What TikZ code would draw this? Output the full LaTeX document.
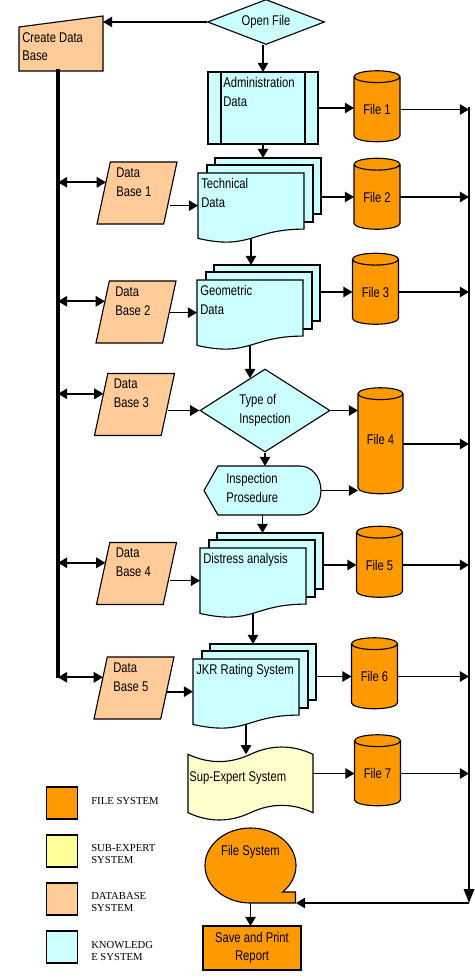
\documentclass[tikz,border=0pt]{standalone}
\usepackage{fontspec}
\setmainfont[FakeStretch=0.8]{Liberation Sans}
\newfontfamily\keyfont{Liberation Serif}
\usetikzlibrary{shapes.geometric, arrows.meta}

\definecolor{filecol}{HTML}{FF9900}
\definecolor{dbcol}{HTML}{FFCC99}
\definecolor{knowcol}{HTML}{CCFFFF}
\definecolor{subcol}{HTML}{FFFFCC}
\definecolor{subkey}{HTML}{FFFF99}

\tikzset{
  box/.style={draw, line width=0.8pt},
  anchorbox/.style={inner sep=0pt, outer sep=0pt},
  lbl/.style={inner sep=0pt, align=left},
  keylbl/.style={inner sep=0pt, align=left, anchor=north west,
                 font=\keyfont\fontsize{7.6}{8.7}\selectfont},
  file/.style={box, cylinder, shape border rotate=90, aspect=0.43, fill=filecol,
               inner sep=0pt, outer sep=0pt, minimum width=11.5mm, minimum height=17.75mm},
  db/.style={box, trapezium, trapezium left angle=76, trapezium right angle=104,
             trapezium stretches=true, fill=dbcol, inner sep=2pt, outer sep=0pt,
             minimum width=20mm, minimum height=15.5mm},
  flow/.style={line width=1.2pt, -{Triangle[length=2.3mm, width=2.6mm]}},
  both/.style={line width=1.2pt, {Triangle[length=2.3mm, width=2.6mm]}-{Triangle[length=2.3mm, width=2.6mm]}},
  pics/multidoc/.style={code={
    \node[box, anchorbox, fill=knowcol, minimum width=26.5mm, minimum height=14mm] (-b) at (70,-13) {};
    \draw[box, fill=knowcol] (9,8) rectangle (115,-49);
    \draw[box, fill=knowcol] (0,0) -- (106,0) -- (106,-56.1)
      .. controls (53,-56.1) and (53,-77.5) .. (0,-65.4) -- cycle;
    \node[anchorbox, minimum width=26.5mm, minimum height=16.33mm] (-f) at (53,-32.65) {};
    \node[lbl, anchor=north west] (-t) at (3,-5) {#1};
  }},
}

\begin{document}
\begin{tikzpicture}[x=0.25mm, y=0.25mm,
    every node/.style={font=\fontsize{10}{13.3}\selectfont}]
  \useasboundingbox (0,0) rectangle (474,-980);

  % start and data base
  \node[box, diamond, aspect=2.6, inner sep=0pt, fill=knowcol,
        minimum width=29.25mm, minimum height=11.25mm] (open) at (266,-22) {Open File};
  \draw[box, fill=dbcol] (19,-27) -- (103,-16) -- (103,-71) -- (19,-71) -- cycle;
  \node[anchorbox, minimum width=21mm, minimum height=13.75mm] (cdb) at (61,-43.5) {};
  \node[lbl, anchor=north west] (cdb-t) at (22,-32) {Create Data\\Base};

  \node[box, anchorbox, fill=knowcol, minimum width=27.5mm, minimum height=18mm] (admin) at (263,-108) {};
  \draw[box] ([xshift=3.25mm]admin.north west) -- ([xshift=3.25mm]admin.south west);
  \draw[box] ([xshift=-3.25mm]admin.north east) -- ([xshift=-3.25mm]admin.south east);
  \node[lbl, anchor=north west] (admin-t) at (223,-77) {Administration\\Data};

  % knowledge documents
  \pic (tech) at (198,-173) {multidoc={Technical\\Data}};
  \pic (geo) at (197,-280) {multidoc={Geometric\\Data}};
  \pic (dist) at (200,-548) {multidoc={Distress analysis}};
  \pic (jkr) at (193,-659) {multidoc={JKR Rating System}};

  \node[box, diamond, aspect=1.57, inner sep=0pt, fill=knowcol, align=left,
        minimum width=32.5mm, minimum height=20.75mm] (toi) at (265,-410.5) {Type of\\Inspection};

  \draw[box, fill=knowcol] (204,-490.5) -- (218,-466) -- (300,-466)
    arc[start angle=90, end angle=-90, x radius=5.25mm, y radius=6.125mm] -- (218,-515) -- cycle;
  \node[anchorbox, minimum width=29.25mm, minimum height=12.25mm] (insp) at (262.5,-490.5) {};
  \node[lbl, anchor=north west] (insp-t) at (226,-473) {Inspection\\Prosedure};

  \draw[box, fill=subcol] (188,-754.3) .. controls (208.8,-764) and (229.7,-764) .. (250.5,-754.3)
    .. controls (271.3,-744.6) and (292.2,-744.6) .. (313,-754.3) -- (313,-812.7)
    .. controls (292.2,-802.9) and (271.3,-802.9) .. (250.5,-812.7)
    .. controls (229.7,-822.4) and (208.8,-822.4) .. (188,-812.7) -- cycle;
  \node[anchorbox, minimum width=31.25mm, minimum height=14.6mm] (sup) at (250.5,-783.5) {};
  \node[lbl, anchor=north west] (sup-t) at (189,-771) {Sup-Expert System};

  \draw[box, fill=filecol] (250.5,-903)
    arc[start angle=-90, end angle=-405, x radius=11.375mm, y radius=9.375mm]
    -- (295.5,-892) -- (295.5,-903) -- cycle;
  \node[anchorbox, minimum width=22.75mm, minimum height=18.75mm] (fs) at (250.5,-865.5) {};
  \node[lbl, anchor=north] (fs-t) at (250.5,-845) {File System};

  \node[box, anchorbox, fill=filecol, align=center, minimum width=24.5mm, minimum height=11mm] (save) at (252,-948) {Save and Print\\Report};

  % data bases
  \node[db] (db1) at (137,-193) {};
  \node[lbl, anchor=north west] (db1-t) at ([shift={(-21,25.5)}]db1.center) {Data\\Base 1};
  \node[db] (db2) at (136,-312) {};
  \node[lbl, anchor=north west] (db2-t) at ([shift={(-21,25.5)}]db2.center) {Data\\Base 2};
  \node[db] (db3) at (134.5,-404.5) {};
  \node[lbl, anchor=north west] (db3-t) at ([shift={(-21,25.5)}]db3.center) {Data\\Base 3};
  \node[db] (db4) at (136.5,-573.5) {};
  \node[lbl, anchor=north west] (db4-t) at ([shift={(-21,25.5)}]db4.center) {Data\\Base 4};
  \node[db] (db5) at (134,-688) {};
  \node[lbl, anchor=north west] (db5-t) at ([shift={(-21,25.5)}]db5.center) {Data\\Base 5};

  % files
  \node[file] (f1) at (377,-109.5) {File 1};
  \node[file] (f2) at (377,-197) {File 2};
  \node[file] (f3) at (375.5,-292) {File 3};
  \node[file, minimum width=11.25mm, minimum height=26.5mm] (f4) at (380.5,-444) {\raisebox{2.5mm}{File 4}};
  \node[file] (f5) at (379.5,-565) {File 5};
  \node[file] (f6) at (374.5,-676.5) {File 6};
  \node[file] (f7) at (377.5,-773.5) {File 7};

  % legend
  \node[box, anchorbox, fill=filecol, minimum width=7.75mm, minimum height=8mm] (k1) at (62,-803) {};
  \node[keylbl] (k1-t) at (91,-796.7) {FILE SYSTEM};
  \node[box, anchorbox, fill=subkey, minimum width=7.75mm, minimum height=8mm] (k2) at (62,-851) {};
  \node[keylbl] (k2-t) at (91,-844) {SUB-EXPERT\\SYSTEM};
  \node[box, anchorbox, fill=dbcol, minimum width=7.75mm, minimum height=8mm] (k3) at (62,-899) {};
  \node[keylbl] (k3-t) at (91,-892.3) {DATABASE\\SYSTEM};
  \node[box, anchorbox, fill=knowcol, minimum width=7.75mm, minimum height=8mm] (k4) at (62,-947) {};
  \node[keylbl] (k4-t) at (91,-940.7) {KNOWLEDG\\E SYSTEM};

  % buses
  \coordinate (busL) at (58,-69);
  \coordinate (busLend) at (58,-678);
  \coordinate (busR) at (469,-107);
  \coordinate (busRend) at (469,-903);
  \draw[line width=2.2pt] (busL) -- (busLend);
  \draw[line width=1.6pt, -{Triangle[length=3.5mm, width=2.6mm]}] (busR) -- (busRend);
  \draw[flow] (busRend) -- (fs.south east);

  % connectors
  \draw[flow] (open.west) -- (cdb.east |- open.west);
  \draw[flow] (admin.north |- open.south) -- (admin.north);
  \draw[flow] (admin.east) -- (admin.east -| f1.west);
  \draw[flow] (f1.east) -- (busR |- f1.east);
  \draw[flow] (admin.south) -- (admin.south |- tech-b.north);

  \draw[both] (busL |- db1.161) -- (db1.161);
  \draw[flow] (db1.east |- tech-f.west) -- (tech-f.west);
  \draw[flow] (tech-b.east |- f2.west) -- (f2.west);
  \draw[flow] (f2.east) -- (busR |- f2.east);
  \draw[flow] (tech-f.south) -- (tech-f.south |- geo-b.north);

  \draw[both] (busL |- db2.161) -- (db2.161);
  \draw[flow] (db2.east |- geo-f.west) -- (geo-f.west);
  \draw[flow] (geo-b.east |- f3.west) -- (f3.west);
  \draw[flow] (f3.east) -- (busR |- f3.east);
  \draw[flow] (geo-f.south) -- (geo-f.south |- toi.115);

  \draw[both] (busL |- db3.161) -- (db3.161);
  \draw[flow] (db3.east |- toi.west) -- (toi.west);
  \draw[flow] (toi.east) -- (toi.east -| f4.west);
  \draw[flow] (toi.south) -- (toi.south |- insp.north);
  \draw[flow] (insp.east) -- (insp.east -| f4.west);
  \draw[flow] (f4.east) -- (busR |- f4.east);
  \draw[flow] (insp.south) -- (insp.south |- dist-b.north);

  \draw[both] (busL |- db4.161) -- (db4.161);
  \draw[flow] (db4.east |- dist-f.west) -- (dist-f.west);
  \draw[flow] (dist-b.east |- f5.west) -- (f5.west);
  \draw[flow] (f5.east) -- (busR |- f5.east);
  \draw[flow] (dist-f.south) -- (dist-f.south |- jkr-b.north);

  \draw[both] (busL |- db5.161) -- (db5.161);
  \draw[flow] (db5.east |- jkr-f.west) -- (jkr-f.west);
  \draw[flow] (jkr-b.east |- f6.west) -- (f6.west);
  \draw[flow] (f6.east) -- (busR |- f6.east);
  \draw[flow] (jkr-f.south) -- (jkr-f.south |- sup.north);

  \draw[flow] (sup.east |- f7.west) -- (f7.west);
  \draw[flow] (f7.east) -- (busR |- f7.east);
  \draw[flow] (fs.south) -- (fs.south |- save.north);
\end{tikzpicture}
\end{document}
